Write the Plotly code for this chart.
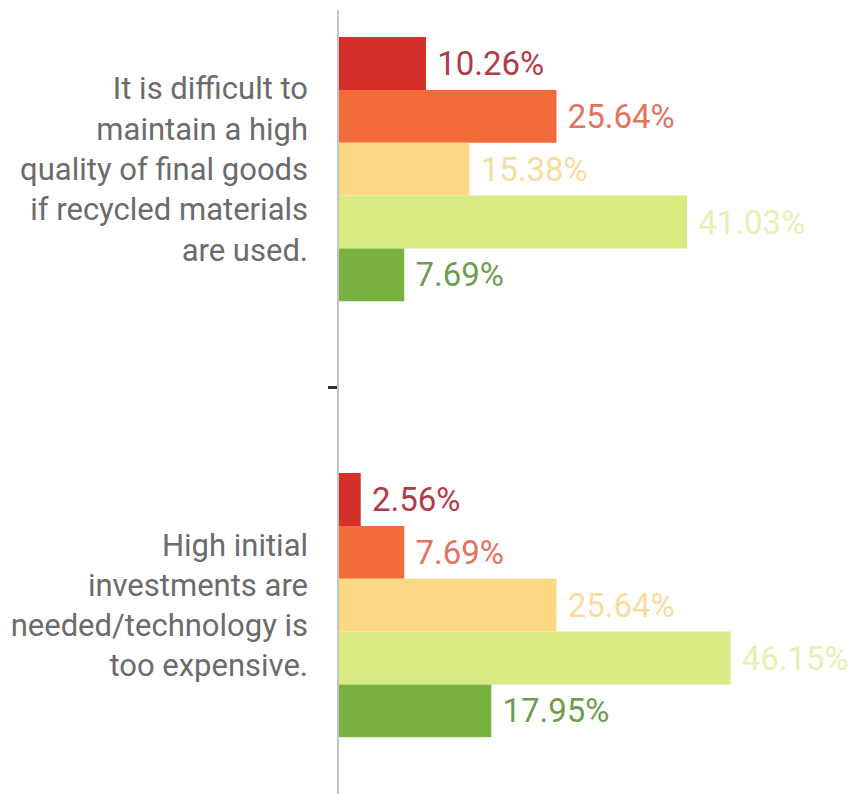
import plotly.graph_objects as go

categories = [
    "It is difficult to<br>maintain a high<br>quality of final goods<br>if recycled materials<br>are used.",
    "High initial<br>investments are<br>needed/technology is<br>too expensive.",
]
series_names = ["Strongly disagree", "Disagree", "Neutral", "Agree", "Strongly agree"]
strongly_disagree = [10.26, 2.56]
disagree = [25.64, 7.69]
neutral = [15.38, 25.64]
agree = [41.03, 46.15]
strongly_agree = [7.69, 17.95]

series_values = [strongly_disagree, disagree, neutral, agree, strongly_agree]
bar_colors = ["#d6302a", "#f26b3b", "#fdd985", "#d9ec83", "#78b13d"]
text_colors = ["#b03c46", "#e2735f", "#f8dc9c", "#e6efb4", "#6e9c50"]

fig = go.Figure()
for name, vals, bc, tc in zip(series_names, series_values, bar_colors, text_colors):
    fig.add_trace(go.Bar(
        name=name,
        y=categories,
        x=vals,
        orientation="h",
        marker=dict(color=bc, line=dict(width=0)),
        text=[f"\u00a0{v:.2f}%" for v in vals],
        textposition="outside",
        textfont=dict(color=tc, size=33, family="Roboto"),
        constraintext="none",
        cliponaxis=False,
        hoverinfo="skip",
    ))

fig.update_layout(
    width=854,
    height=794,
    margin=dict(l=339, r=6, t=10, b=0),
    paper_bgcolor="white",
    plot_bgcolor="white",
    barmode="group",
    bargap=0.394,
    bargroupgap=0,
    showlegend=False,
    font=dict(family="Roboto", color="#6b6b6b"),
)
fig.update_xaxes(
    range=[0, 60],
    visible=False,
    showgrid=False,
    zeroline=False,
)
fig.update_yaxes(
    type="category",
    categoryorder="array",
    categoryarray=categories,
    range=[1.433, -0.365],
    showline=True,
    linecolor="#c4c4c4",
    linewidth=1.5,
    showgrid=False,
    zeroline=False,
    ticks="outside",
    tickson="boundaries",
    ticklen=9,
    tickwidth=3,
    tickcolor="#333333",
    ticklabelstandoff=23,
    tickfont=dict(size=31, family="Roboto", color="#6b6b6b"),
)

fig.write_html(
    "out.html",
    config={"displayModeBar": False},
    post_script="document.body.style.margin='0';document.body.style.overflow='hidden';",
)
